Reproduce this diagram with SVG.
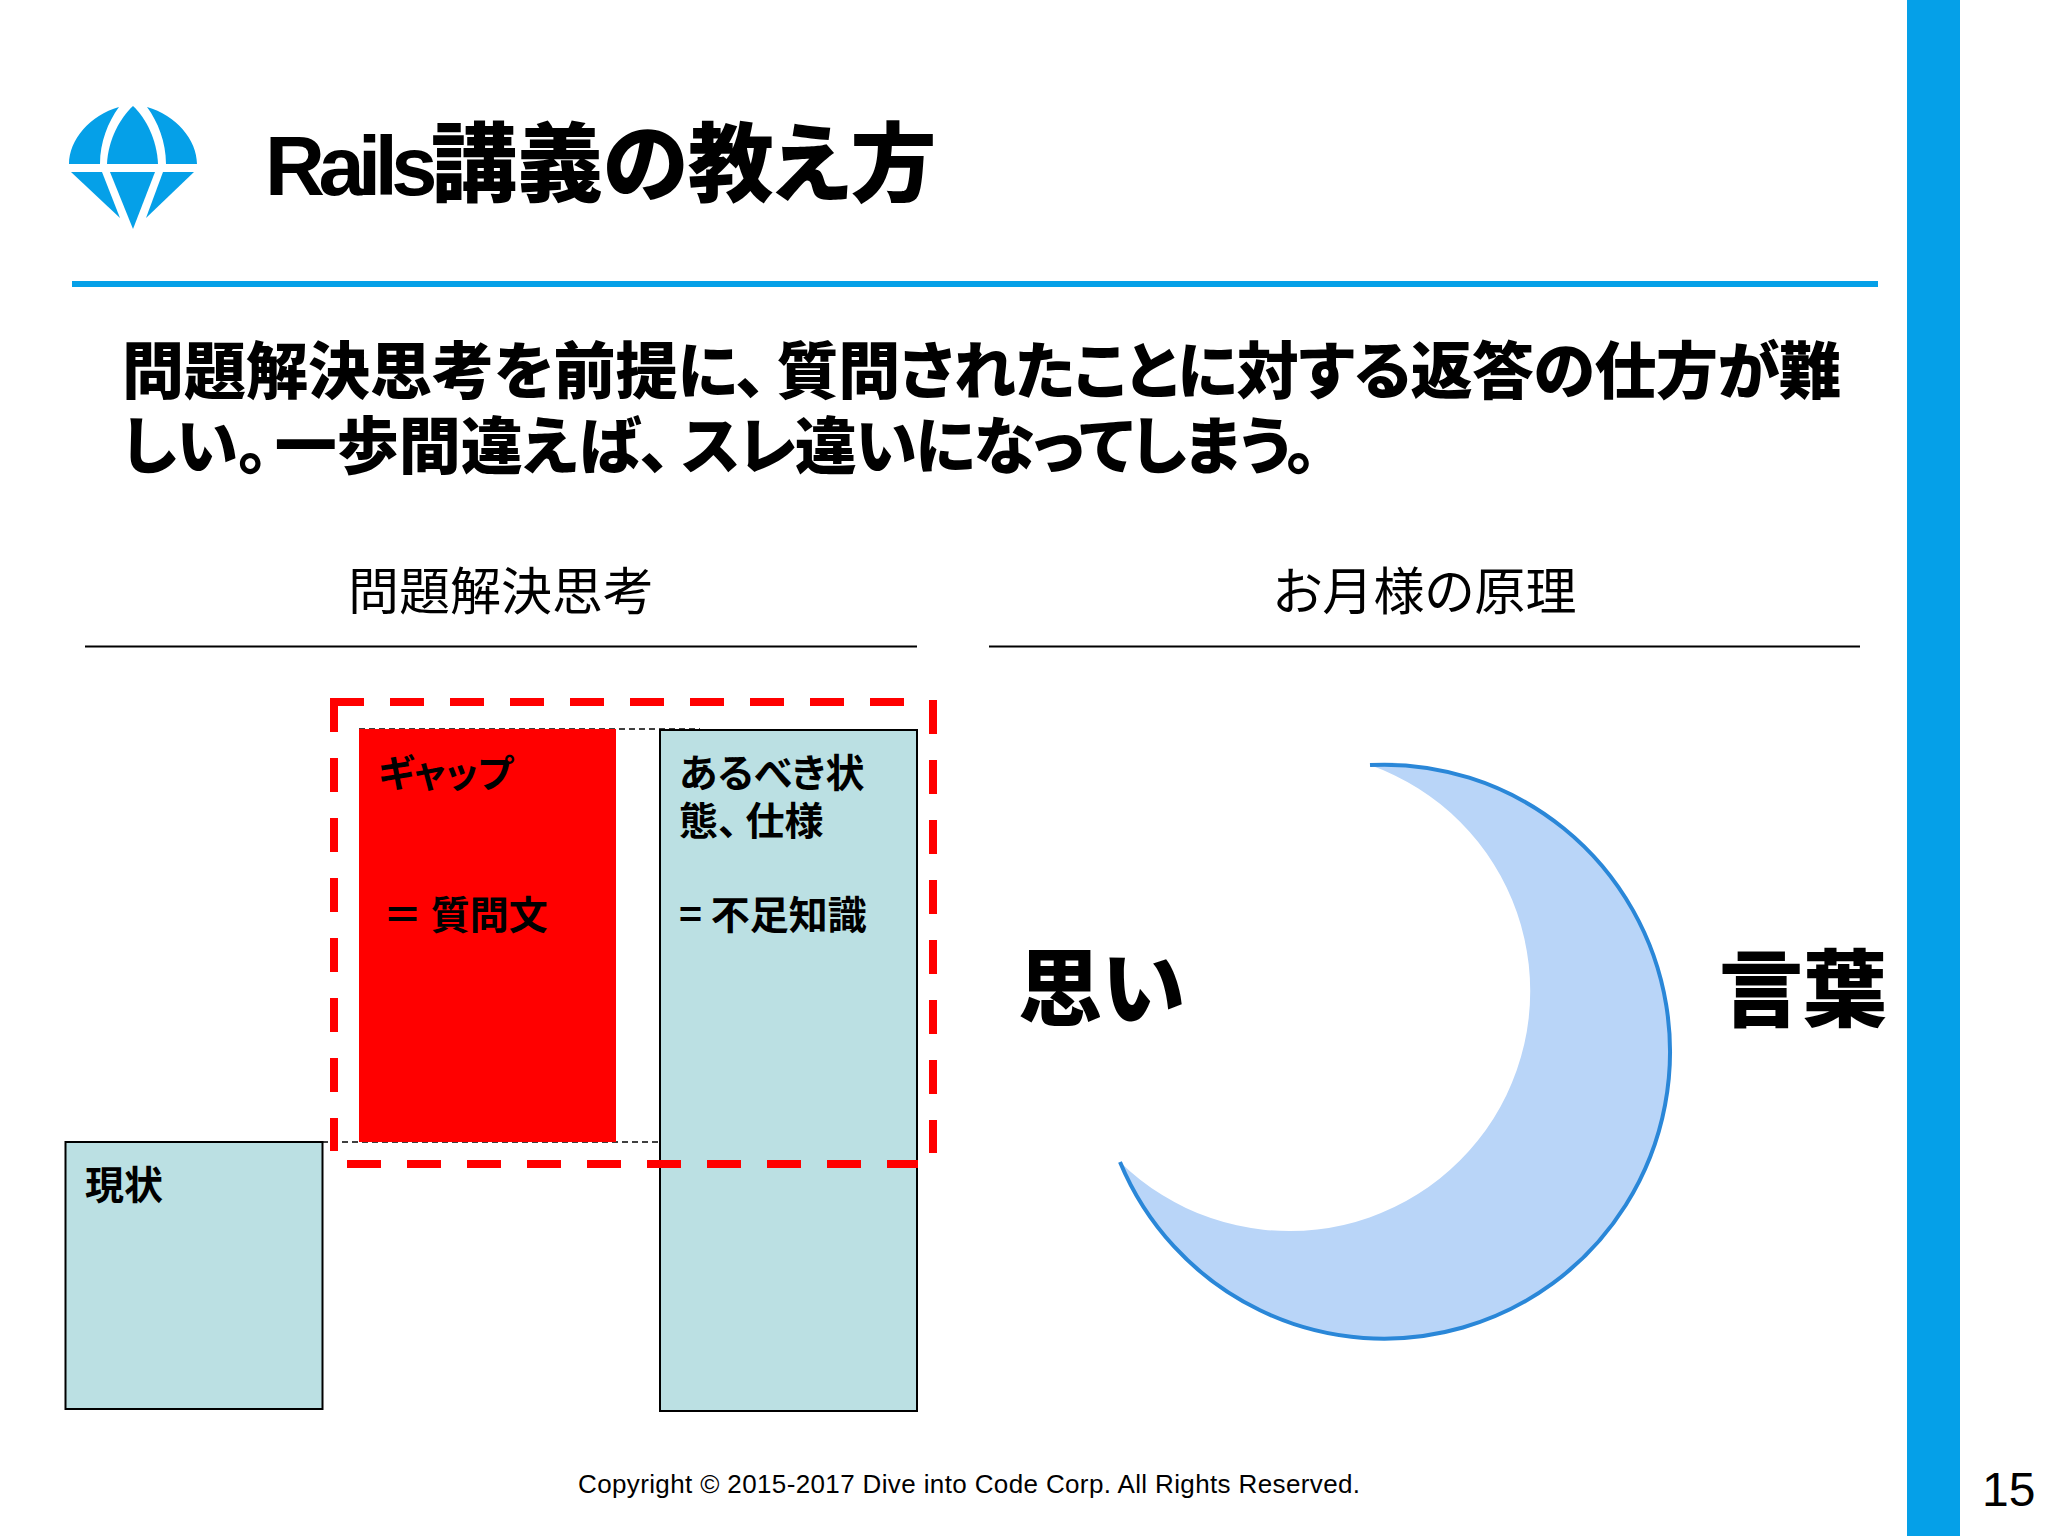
<svg xmlns="http://www.w3.org/2000/svg" width="2048" height="1536" viewBox="0 0 2048 1536">
<defs><style>
text{font-family:"Liberation Sans","Noto Sans CJK JP",sans-serif;fill:#000;font-feature-settings:"palt"}
.b{font-weight:700}
.h{font-size:51px;font-family:"Noto Sans CJK JP",sans-serif;font-weight:400}
.body{font-size:62px;font-family:"Noto Sans CJK JP",sans-serif;font-weight:900}
.box{font-size:39px;font-family:"Noto Sans CJK JP",sans-serif;font-weight:700}
.big{font-size:84px;font-family:"Noto Sans CJK JP",sans-serif;font-weight:900}
.blue{fill:#bbe0e3;stroke:#000;stroke-width:2}
.rule{stroke:#000;stroke-width:2}
.thin{stroke:#000;stroke-width:1.5;stroke-dasharray:6 4;fill:none}
.reddash{stroke:#f00;stroke-width:8;stroke-dasharray:34 26;fill:none}
.logo{fill:#05a0e8}
</style></defs>
<rect width="2048" height="1536" fill="#fff"/>
<rect x="1907" y="0" width="53" height="1536" fill="#05a0e8"/>
<rect x="72" y="281" width="1806" height="6" fill="#05a0e8"/>
<g id="logo" class="logo">
<path d="M119 107C90 115 69 140 69 164H100C100 142 108 122 119 107Z"/>
<path d="M133 106C120 118 108 140 107 164H158C157 140 146 118 133 106Z"/>
<path d="M147 107C176 115 197 140 197 164H166C166 142 158 122 147 107Z"/>
<path d="M71 172H102L120 218Z"/>
<path d="M110 172H155L133 229Z"/>
<path d="M163 172H194L146 218Z"/>
</g>
<text id="title" class="b" x="265" y="195" font-size="83"><tspan style="font-size:83px" letter-spacing="-6.5">Rails</tspan><tspan style="font-size:86px;font-weight:900;font-family:'Noto Sans CJK JP',sans-serif">講義の教え方</tspan></text>
<g id="body">
<text class="body" x="122" y="394">問題解決思考を前提に、<tspan dx="10" letter-spacing="-0.4">質問されたことに対する返答の仕方が難</tspan></text>
<text class="body" x="122" y="469">しい。<tspan dx="6">一歩間違えば、</tspan><tspan dx="11" letter-spacing="-1.4">スレ違いになってしまう。</tspan></text>
</g>
<g id="left-heading"><text class="h" x="348" y="610">問題解決思考</text><line class="rule" x1="85" y1="646.5" x2="917" y2="646.5"/></g>
<g id="right-heading"><text class="h" x="1273" y="610" letter-spacing="0.3">お月様の原理</text><line class="rule" x1="989" y1="646.5" x2="1860" y2="646.5"/></g>
<g id="connectors">
<line class="thin" x1="359" y1="729" x2="700" y2="729"/>
<line class="thin" x1="322" y1="1142" x2="660" y2="1142"/>
</g>
<g id="gap"><rect x="359" y="729" width="257" height="413" fill="#f00"/>
<text class="box" style="font-size:38px" x="378" y="787">ギャップ</text><text class="box" x="383" y="929">＝ 質問文</text></g>
<g id="ideal"><rect class="blue" x="660" y="730" width="257" height="681"/>
<text class="box" x="679" y="787">あるべき状</text><text class="box" x="679" y="835">態、<tspan dx="8">仕様</tspan></text><text class="box" x="679" y="929">= 不足知識</text></g>
<g id="current"><rect class="blue" x="65.5" y="1142" width="257" height="267"/>
<text class="box" x="85" y="1199">現状</text></g>
<g id="scope">
<line class="reddash" x1="330" y1="702" x2="908" y2="702"/>
<line class="reddash" x1="334" y1="698" x2="334" y2="1151"/>
<line class="reddash" x1="933" y1="700" x2="933" y2="1153"/>
<line class="reddash" x1="347" y1="1164" x2="918" y2="1164"/>
</g>
<g id="moon">
<path d="M1370 765A286 287 0 1 1 1120 1162A241 240 0 1 0 1370 765Z" fill="#b9d5f8"/>
<path d="M1370 765A286 287 0 1 1 1120 1162" fill="none" stroke="#2a87d8" stroke-width="4"/>
</g>
<text id="omoi" class="big" x="1018" y="1019">思い</text>
<text id="kotoba" class="big" x="1719" y="1020">言葉</text>
<text id="copyright" x="578" y="1493" style="font-size:26px;letter-spacing:.37px">Copyright © 2015-2017 Dive into Code Corp. All Rights Reserved.</text>
<text id="page" x="1982" y="1506" style="font-size:48px">15</text>
</svg>
